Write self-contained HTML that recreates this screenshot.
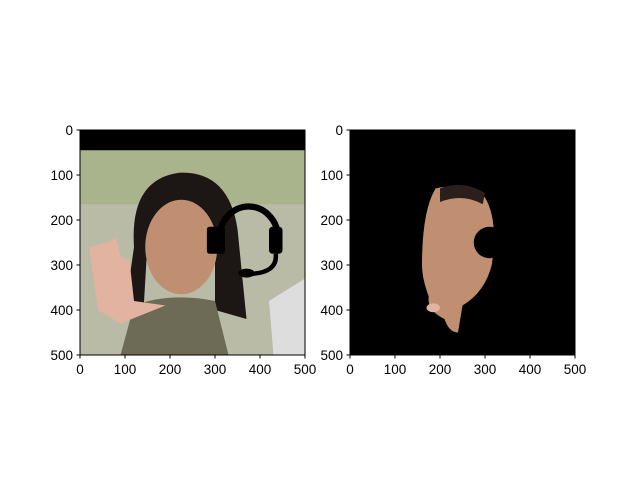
<!DOCTYPE html>
<html><head><meta charset="utf-8"><style>
body{margin:0;background:#fff;}
svg{display:block;font-family:"Liberation Sans","DejaVu Sans",sans-serif;}
</style></head><body>
<svg id="fig" width="640" height="480">
<rect width="640" height="480" fill="#fff"/>
<!-- left image -->
<g transform="translate(80,130) scale(0.45)">
  <rect x="0" y="0" width="500" height="500" fill="#b9bba6"/>
  <rect x="0" y="45" width="500" height="120" fill="#a9b48c"/>
  <rect x="0" y="0" width="500" height="45" fill="#000"/>
  <path d="M120 260 Q110 110 220 95 Q330 90 350 220 L370 420 L300 400 L300 230 L150 250 L140 420 L100 400 Z" fill="#1c1714"/>
  <ellipse cx="225" cy="260" rx="80" ry="105" fill="#c08e70"/>
  <path d="M120 390 Q200 360 300 380 L330 500 L90 500 Z" fill="#6d6a55"/>
  <path d="M420 380 L500 330 L500 500 L430 500 Z" fill="#ddd"/>
  <path d="M20 260 L40 400 L90 430 L190 390 L120 380 L110 290 L90 280 L80 240 L60 250 Z" fill="#e2b3a0"/>
  <g>
    <path d="M310 240 A65 70 0 0 1 440 240" fill="none" stroke="#000" stroke-width="14"/>
    <rect x="282" y="215" width="40" height="60" rx="6" fill="#000"/>
    <rect x="420" y="215" width="30" height="60" rx="8" fill="#000"/>
    <path d="M435 275 Q440 320 370 320" fill="none" stroke="#000" stroke-width="10"/>
    <ellipse cx="370" cy="318" rx="18" ry="10" fill="#000"/>
  </g>
</g>
<!-- right image -->
<g transform="translate(350,130) scale(0.45)">
  <rect x="0" y="0" width="500" height="500" fill="#000"/>
  <path d="M190 130 Q250 115 300 150 Q330 200 315 300 Q300 360 250 390 L240 450 Q220 450 210 420 Q170 400 175 370 Q160 330 160 300 Q160 180 190 130 Z" fill="#c08e70"/>
  <ellipse cx="185" cy="395" rx="15" ry="10" fill="#e2b3a0"/>
  <circle cx="310" cy="250" r="35" fill="#000"/>
  <path d="M200 130 Q250 110 300 140 L295 165 Q250 140 200 160 Z" fill="#2a1f1a"/>
</g>
<g id="axes" fill="none" stroke="#000" stroke-width="1"></g>
</svg>
<script>
const xTicks=[0,100,200,300,400,500];
const yTicks=[0,100,200,300,400,500];
const panels=[{x0:80,name:'left'},{x0:350,name:'right'}];
const y0=130, S=0.45, ns='http://www.w3.org/2000/svg';
const svg=document.getElementById('fig');
function mk(t,a,p){const e=document.createElementNS(ns,t);for(const k in a)e.setAttribute(k,a[k]);(p||svg).appendChild(e);return e;}
panels.forEach(p=>{
  const fx=u=>p.x0+u*S, fy=u=>y0+u*S;
  const fr=mk('rect',{x:p.x0,y:y0,width:225,height:225,fill:'none',stroke:'#000','stroke-width':1});
  
  
  xTicks.forEach(v=>{
    const l=mk('line',{x1:fx(v),x2:fx(v),y1:y0+225,y2:y0+228.5,stroke:'#000'});
    
    
    const t=mk('text',{x:fx(v),y:y0+244,'text-anchor':'middle','font-size':13.5,fill:'#000'});
    t.textContent=v;
    
    
  });
  yTicks.forEach(v=>{
    const l=mk('line',{x1:p.x0-3.5,x2:p.x0,y1:fy(v),y2:fy(v),stroke:'#000'});
    
    
    const t=mk('text',{x:p.x0-7,y:fy(v)+5,'text-anchor':'end','font-size':13.5,fill:'#000'});
    t.textContent=v;
    
    
  });
});
</script>
</body></html>
